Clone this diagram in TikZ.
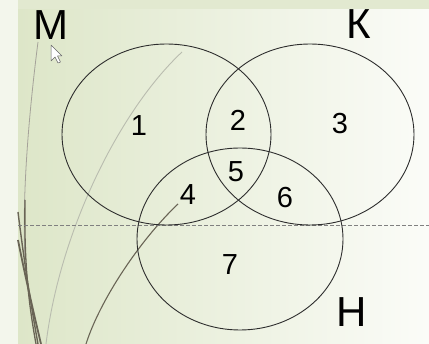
\documentclass[tikz,border=0pt]{standalone}
\usepackage{fontspec}
\setmainfont{Liberation Sans}
\definecolor{bgl}{RGB}{221,230,200}
\definecolor{bgr}{RGB}{251,252,248}
\definecolor{band}{RGB}{226,233,208}
\definecolor{strip}{RGB}{243,246,236}
\definecolor{grassdark}{RGB}{105,100,85}
\definecolor{grasslight}{RGB}{185,188,175}
\definecolor{venn}{RGB}{45,45,45}
\begin{document}
\begin{tikzpicture}[x=1pt,y=-1pt,
  vennline/.style={draw=venn,line width=0.9pt},
  setlabel/.style={font=\fontsize{42}{42}\selectfont,inner sep=0pt,text=black},
  numlabel/.style={font=\fontsize{29}{29}\selectfont,inner sep=0pt,text=black},
  grass/.style={line width=1.4pt,draw=grassdark},
  grassl/.style={line width=0.9pt,draw=grasslight}]
\useasboundingbox (0,0) rectangle (429,344);
% background
\fill[strip] (0,0) rectangle (18,344);
\shade[left color=bgl,right color=bgr] (18,9) rectangle (429,344);
\fill[band] (18,0) rectangle (429,9);
% decorative grass curves
\draw[grassl,line width=0.8pt,draw=grassdark!60] (38,42) .. controls (28,120) and (22,200) .. (25,260);
\draw[grass,line width=1.3pt] (25,200) .. controls (24,260) and (28,300) .. (36,344);
\draw[grass] (18,212) .. controls (24,260) and (30,300) .. (38,344);
\draw[grass,line width=1.8pt] (18,240) .. controls (26,280) and (33,310) .. (41,344);
\draw[grassl] (182,52) .. controls (120,110) and (60,230) .. (46,344);
\draw[grass,line width=1.1pt] (178,204) .. controls (140,240) and (100,300) .. (86,344);
% dashed guide
\draw[gray,line width=0.5pt,dash pattern=on 4pt off 2pt] (18,225) -- (429,225);
% Venn diagram
\coordinate (cM) at (166.5,134.5);
\coordinate (cK) at (310,134.5);
\coordinate (cH) at (240,239);
\draw[vennline] (cM) ellipse[x radius=104.5,y radius=90.5];
\draw[vennline] (cK) ellipse[x radius=104,y radius=90.5];
\draw[vennline] (cH) ellipse[x radius=103,y radius=91];
% set labels
\node[setlabel] (lM) at (51,25) {М};
\node[setlabel] (lK) at (359,24) {К};
\node[setlabel] (lH) at (352,312) {Н};
% region numbers
\node[numlabel] (n1) at (139,126) {1};
\node[numlabel] (n2) at (238,120) {2};
\node[numlabel] (n3) at (340,124) {3};
\node[numlabel] (n4) at (188,195) {4};
\node[numlabel] (n5) at (236,172) {5};
\node[numlabel] (n6) at (285,198) {6};
\node[numlabel] (n7) at (230,265) {7};
% mouse cursor
\draw[fill=white,draw=gray!80!black,line width=0.5pt,line join=round]
  (51,45) -- (51,61) -- (55,57) -- (58,63) -- (60.5,62) -- (57.5,56) -- (62,56) -- cycle;
\end{tikzpicture}
\end{document}
